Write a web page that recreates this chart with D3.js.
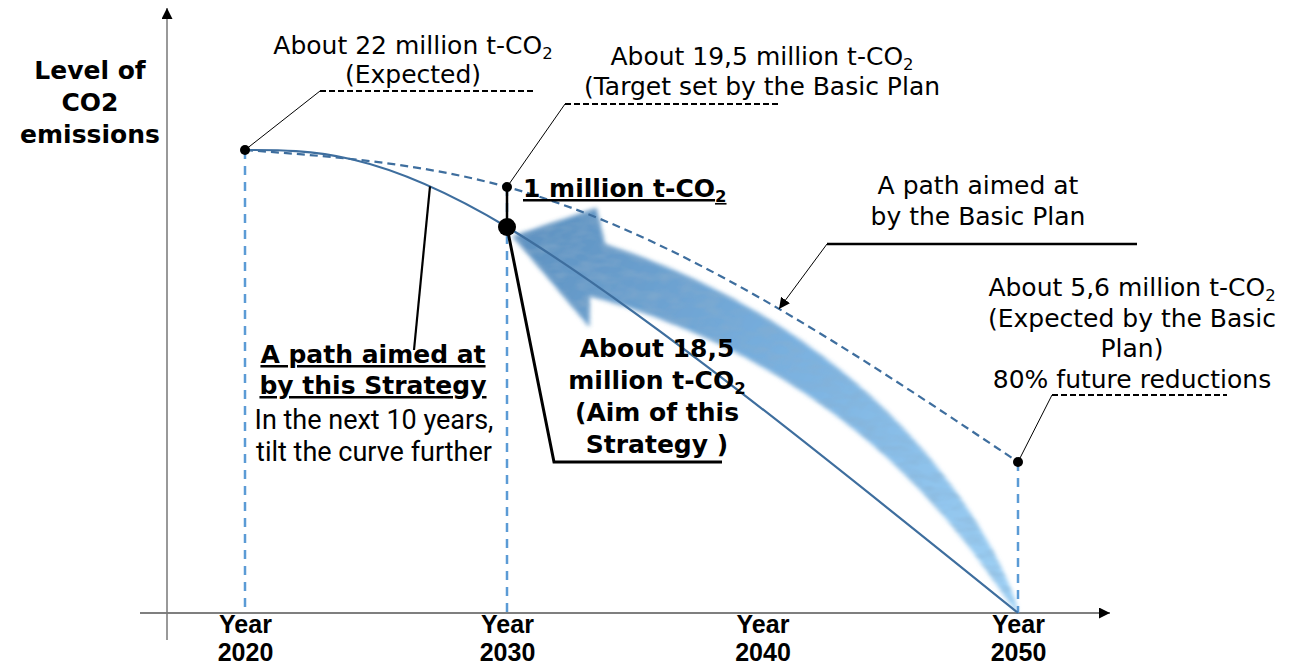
<!DOCTYPE html>
<html>
<head>
<meta charset="utf-8">
<script src="https://cdn.jsdelivr.net/npm/d3@7"></script>
<style>
  body { margin: 0; background: #fff; }
  .reg  { font-family: 'DejaVu Sans', Verdana, sans-serif; font-size: 25px; fill: #000; }
  .bold { font-family: 'DejaVu Sans', Verdana, sans-serif; font-size: 25px; font-weight: bold; fill: #000; }
  .rob  { font-family: Roboto, sans-serif; font-size: 27px; fill: #000; }
  .uline { text-decoration: underline; }
  .tick text { font-family: 'Liberation Sans', Arial, sans-serif; font-size: 25px; font-weight: bold; fill: #000; }
</style>
</head>
<body>
<svg id="chart" width="1314" height="667"></svg>
<script>
// values, million t-CO2
const years = [2020, 2030, 2050];
const basicPlan = [22, 19.5, 5.6];
const strategy = [22, 18.5, 0];
const yearTicks = [2020, 2030, 2040, 2050];

// label texts ("_2" = subscript 2)
const yTitle = ['Level of', 'CO2', 'emissions'];
const note2020 = ['About 22 million t-CO_2', '(Expected)'];
const note2030 = ['About 19,5 million t-CO_2', '(Target set by the Basic Plan'];
const gapNote = '1 million t-CO_2';
const basicNote = ['A path aimed at', 'by the Basic Plan'];
const note2050 = ['About 5,6 million t-CO_2', '(Expected by the Basic', 'Plan)', '80% future reductions'];
const stratTitle = ['A path aimed at', 'by this Strategy'];
const stratSub = ['In the next 10 years,', 'tilt the curve further'];
const aimNote = ['About 18,5', 'million t-CO_2', '(Aim of this', 'Strategy )'];

const lineBlue = '#3e6e9e';
const guideBlue = '#5b9bd5';

const svg = d3.select('#chart');

// schematic chart: scales are piecewise
const x = d3.scaleLinear().domain([2020, 2030, 2050]).range([245, 507, 1018]);
const y = d3.scaleLinear().domain([0, 5.6, 18.5, 19.5, 22]).range([613, 462, 227, 187, 150]);

const defs = svg.append('defs');
function triMarker(id, size) {
  defs.append('marker').attr('id', id)
    .attr('viewBox', '0 0 10 10').attr('refX', 10).attr('refY', 5)
    .attr('markerWidth', size).attr('markerHeight', size)
    .attr('markerUnits', 'userSpaceOnUse').attr('orient', 'auto')
    .append('path').attr('d', 'M0,0L10,5L0,10Z').attr('fill', '#000');
}
triMarker('axisArrow', 11);
triMarker('leadArrow', 11);

// soft, slightly mottled fill for the big arrow
const soft = defs.append('filter').attr('id', 'soft')
  .attr('x', '-10%').attr('y', '-10%').attr('width', '120%').attr('height', '120%');
soft.append('feGaussianBlur').attr('in', 'SourceGraphic').attr('stdDeviation', 2.2).attr('result', 'b');
soft.append('feTurbulence').attr('type', 'fractalNoise').attr('baseFrequency', '0.05 0.11')
  .attr('numOctaves', 2).attr('seed', 4).attr('result', 'n');
soft.append('feColorMatrix').attr('in', 'n').attr('type', 'matrix')
  .attr('values', '0 0 0 0 0.25  0 0 0 0 0.42  0 0 0 0 0.6  0 0 0 0.9 -0.32').attr('result', 'tex');
soft.append('feComposite').attr('in', 'tex').attr('in2', 'b').attr('operator', 'in').attr('result', 'tex2');
const merge = soft.append('feMerge');
merge.append('feMergeNode').attr('in', 'b');
merge.append('feMergeNode').attr('in', 'tex2');

// ---- big curved arrow (from 2050 zero point back to the 2030 aim) ----
const tip = [x(years[1]), y(strategy[1])];
const tail = [x(years[2]), y(strategy[2])];
const L = Math.hypot(tail[0] - tip[0], tail[1] - tip[1]);
const u = [(tail[0] - tip[0]) / L, (tail[1] - tip[1]) / L];
const nv = [-u[1], u[0]];
const frame = (a, p) => [tip[0] + a * u[0] + p * nv[0], tip[1] + a * u[1] + p * nv[1]];
const head = frame(10, 4), base = frame(98, -20);
const c1 = frame(313, -100), c2 = frame(507, -68);
const barbUp = frame(60, -69), barbLow = frame(126, 30);

const bez = t => [0, 1].map(k => (1 - t) ** 3 * base[k] + 3 * (1 - t) ** 2 * t * c1[k]
  + 3 * (1 - t) * t * t * c2[k] + t ** 3 * tail[k]);
const dbez = t => [0, 1].map(k => 3 * (1 - t) ** 2 * (c1[k] - base[k])
  + 6 * (1 - t) * t * (c2[k] - c1[k]) + 3 * t * t * (tail[k] - c2[k]));
const upper = [], lower = [];
for (let i = 0; i <= 48; i++) {
  const t = i / 48, p = bez(t), d = dbez(t);
  const len = Math.hypot(d[0], d[1]);
  const nm = [-d[1] / len, d[0] / len];
  const w = 27 * Math.pow(1 - t, 0.6);
  upper.push([p[0] - nm[0] * w, p[1] - nm[1] * w]);
  lower.push([p[0] + nm[0] * w, p[1] + nm[1] * w]);
}
const arrowPts = [head, barbUp, ...upper, ...lower.reverse(), barbLow];

const grad = defs.append('linearGradient').attr('id', 'arrowFill')
  .attr('gradientUnits', 'userSpaceOnUse')
  .attr('x1', tip[0]).attr('y1', tip[1]).attr('x2', tail[0]).attr('y2', tail[1]);
grad.append('stop').attr('offset', 0).attr('stop-color', '#5d90bf');
grad.append('stop').attr('offset', 0.45).attr('stop-color', '#78afde');
grad.append('stop').attr('offset', 1).attr('stop-color', '#a0d2f6');

svg.append('path')
  .attr('d', d3.line()(arrowPts) + 'Z')
  .attr('fill', 'url(#arrowFill)')
  .attr('filter', 'url(#soft)');

// ---- axes ----
svg.append('line')
  .attr('x1', 140).attr('y1', y(0)).attr('x2', 1110).attr('y2', y(0))
  .attr('stroke', '#555').attr('stroke-width', 1.5).attr('marker-end', 'url(#axisArrow)');
svg.append('line')
  .attr('x1', 167).attr('y1', 640).attr('x2', 167).attr('y2', 8)
  .attr('stroke', '#777').attr('stroke-width', 1.5).attr('marker-end', 'url(#axisArrow)');

const xAxis = svg.append('g')
  .attr('transform', `translate(0,${y(0)})`)
  .call(d3.axisBottom(x).tickValues(yearTicks).tickSize(0).tickFormat(d3.format('d')));
xAxis.select('.domain').remove();
xAxis.selectAll('.tick text').each(function (d) {
  const t = d3.select(this).text(null).attr('y', 0).attr('dy', null);
  t.append('tspan').attr('x', 0).attr('y', 20).text('Year');
  t.append('tspan').attr('x', 0).attr('y', 48).text(d);
});

// y title
yTitle.forEach((s, i) => {
  svg.append('text').attr('class', 'bold').attr('text-anchor', 'middle')
    .attr('x', 90).attr('y', 79 + i * 32).text(s);
});

// ---- vertical guides ----
svg.append('g').selectAll('line')
  .data(years)
  .join('line')
  .attr('x1', d => x(d)).attr('x2', d => x(d))
  .attr('y1', (d, i) => y(basicPlan[i])).attr('y2', y(0))
  .attr('stroke', guideBlue).attr('stroke-width', 2.5).attr('stroke-dasharray', '9,7');

// ---- paths ----
const lineOf = curve => d3.line().x(d => x(d[0])).y(d => y(d[1])).curve(curve);
const basicPath = svg.append('path')
  .attr('d', lineOf(d3.curveMonotoneX)(years.map((yr, i) => [yr, basicPlan[i]])))
  .attr('fill', 'none').attr('stroke', lineBlue).attr('stroke-width', 2.2)
  .attr('stroke-dasharray', '8,5');
const stratPath = svg.append('path')
  .attr('d', lineOf(d3.curveNatural)(years.map((yr, i) => [yr, strategy[i]])))
  .attr('fill', 'none').attr('stroke', lineBlue).attr('stroke-width', 2.2);

function pointAtX(node, px) {
  let lo = 0, hi = node.getTotalLength();
  for (let k = 0; k < 30; k++) {
    const mid = (lo + hi) / 2;
    if (node.getPointAtLength(mid).x < px) lo = mid; else hi = mid;
  }
  return node.getPointAtLength(lo);
}

// 1 million gap connector
svg.append('line')
  .attr('x1', x(2030)).attr('x2', x(2030))
  .attr('y1', y(basicPlan[1])).attr('y2', y(strategy[1]))
  .attr('stroke', '#000').attr('stroke-width', 2.5);

// ---- leader lines ----
const leaders = svg.append('g').attr('fill', 'none').attr('stroke', '#000');
function elbow(from, corner, endX, dashed, width) {
  leaders.append('path').attr('d', `M${from[0]},${from[1]}L${corner[0]},${corner[1]}`).attr('stroke-width', 1);
  leaders.append('path').attr('d', `M${corner[0]},${corner[1]}H${endX}`)
    .attr('stroke-width', width).attr('stroke-dasharray', dashed ? '6,3' : null);
}
elbow([x(2020), y(basicPlan[0])], [320, 91], 535, true, 2);
elbow([x(2030), y(basicPlan[1])], [565, 104], 780, true, 2);
elbow([x(2050), y(basicPlan[2])], [1052, 395], 1227, true, 2);

// basic plan label, arrow onto the dashed curve
const onBasic = pointAtX(basicPath.node(), 779);
leaders.append('path').attr('d', `M827,244L${onBasic.x},${onBasic.y}`)
  .attr('stroke-width', 1).attr('marker-end', 'url(#leadArrow)');
leaders.append('path').attr('d', 'M827,244H1137').attr('stroke-width', 2.5);

// strategy label onto the solid curve
const onStrat = pointAtX(stratPath.node(), 430);
leaders.append('path').attr('d', `M${onStrat.x},${onStrat.y}L414,350`).attr('stroke-width', 2.2);

// aim label
leaders.append('path')
  .attr('d', `M${x(2030)},${y(strategy[1])}L554,462H722`)
  .attr('stroke-width', 3);

// ---- dots ----
svg.append('g').selectAll('circle')
  .data(years)
  .join('circle')
  .attr('cx', d => x(d)).attr('cy', (d, i) => y(basicPlan[i]))
  .attr('r', 5).attr('fill', '#000');
svg.append('circle').attr('cx', x(2030)).attr('cy', y(strategy[1])).attr('r', 9).attr('fill', '#000');

// ---- texts ----
function addLine(cls, str, px, py, anchor) {
  const t = svg.append('text').attr('class', cls).attr('x', px).attr('y', py)
    .attr('text-anchor', anchor || 'middle');
  const parts = str.split('_2');
  t.append('tspan').text(parts[0]);
  if (parts.length > 1) {
    t.append('tspan').attr('dy', '0.3em').attr('font-size', '0.66em').text('2');
  }
  return t;
}
function block(cls, lines, px, py, lh, anchor) {
  lines.forEach((s, i) => addLine(cls, s, px, py + i * lh, anchor));
}

block('reg', note2020, 413, 54, 29);
block('reg', note2030, 762, 65, 30);
addLine('bold uline', gapNote, 523, 197, 'start');
block('reg', basicNote, 978, 194, 31);
block('reg', note2050, 1132, 296, 30.5);
block('bold uline', stratTitle, 373, 363, 31);
block('rob', stratSub, 374, 429, 32);
block('bold', aimNote, 657, 357, 32);
</script>
</body>
</html>
